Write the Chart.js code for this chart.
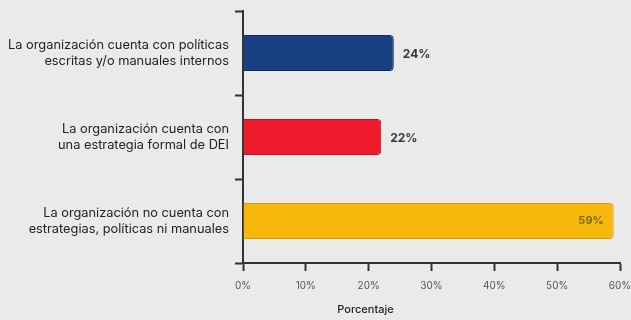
<!DOCTYPE html>
<html>
<head>
<meta charset="utf-8">
<script src="https://cdn.jsdelivr.net/npm/chart.js@4"></script>
<style>
  html, body { margin: 0; padding: 0; background: #eaeaea; }
  #wrap { width: 631px; height: 320px; }
</style>
</head>
<body>
<div id="wrap"><canvas id="chart"></canvas></div>
<script>
// Categories (multi-line labels) and their percentages.
const categories = [
    ["La organización cuenta con políticas", "escritas y/o manuales internos"],
    ["La organización cuenta con", "una estrategia formal de DEI"],
    ["La organización no cuenta con", "estrategias, políticas ni manuales"],
];
const percentages = [24, 22, 59];
const barColors = ["#173f82", "#ee1b2d", "#f6b60a"];
const barBorders = ["#0f2c5e", "#b8121f", "#d69c00"];
const xTicks = [0, 10, 20, 30, 40, 50, 60];

const FONT = "Inter, 'Open Sans', sans-serif";
const AXIS_COLOR = "#333333";

// Draws the value next to each bar; the last one sits inside its bar.
const valueLabels = {
    id: 'valueLabels',
    afterDatasetsDraw(chart) {
        const ctx = chart.ctx;
        const meta = chart.getDatasetMeta(0);
        ctx.save();
        ctx.textBaseline = 'middle';
        meta.data.forEach((bar, i) => {
            const text = `${percentages[i]}%`;
            if (i == meta.data.length - 1) {
                ctx.font = `bold 11px ${FONT}`;
                ctx.fillStyle = "#7b6a14";
                ctx.textAlign = 'right';
                ctx.fillText(text, bar.x - 10, bar.y);
            }
            else {
                ctx.font = `bold 12px ${FONT}`;
                ctx.fillStyle = "#383838";
                ctx.textAlign = 'left';
                ctx.fillText(text, bar.x + 9, bar.y + 1);
            }
        });
        ctx.restore();
    }
};

// Axis title, placed left of the axis middle.
const axisTitle = {
    id: 'axisTitle',
    afterDraw(chart) {
        const ctx = chart.ctx;
        const x = chart.scales.x;
        ctx.save();
        ctx.font = `500 11px ${FONT}`;
        ctx.fillStyle = "#222222";
        ctx.textAlign = 'center';
        ctx.textBaseline = 'middle';
        ctx.fillText("Porcentaje", x.getPixelForValue(19.5), 310);
        ctx.restore();
    }
};

new Chart(document.getElementById("chart"), {
    type: 'bar',
    data: {
        labels: categories,
        datasets: [{
            data: percentages,
            backgroundColor: barColors,
            borderColor: barBorders,
            borderWidth: 1,
            borderRadius: 4,
            borderSkipped: 'start',
            categoryPercentage: 1.0,
            barPercentage: 0.43,
        }]
    },
    options: {
        indexAxis: 'y',
        responsive: true,
        maintainAspectRatio: false,
        animation: false,
        layout: {
            padding: { top: 11, right: 11, left: 0, bottom: 0 },
        },
        plugins: {
            legend: { display: false },
            tooltip: { enabled: false },
        },
        scales: {
            x: {
                min: 0,
                max: 60,
                afterBuildTicks: (scale) => {
                    scale.ticks = xTicks.map(v => ({ value: v }));
                },
                afterFit: (scale) => {
                    scale.height = 57;
                    scale.paddingRight = 0;
                    scale.paddingLeft = 0;
                },
                border: { display: true, color: AXIS_COLOR, width: 2 },
                grid: {
                    drawOnChartArea: false,
                    drawTicks: true,
                    tickLength: 8,
                    tickWidth: 2,
                    tickColor: AXIS_COLOR,
                },
                ticks: {
                    padding: 9,
                    color: "#555555",
                    font: { family: FONT, size: 10 },
                    callback: (v) => `${v}%`,
                },
            },
            y: {
                afterFit: (scale) => {
                    scale.width = 243;
                    scale.paddingTop = 0;
                    scale.paddingBottom = 0;
                },
                border: { display: true, color: AXIS_COLOR, width: 2 },
                grid: {
                    offset: true,
                    drawOnChartArea: false,
                    drawTicks: true,
                    tickLength: 8,
                    tickWidth: 2,
                    tickColor: AXIS_COLOR,
                },
                ticks: {
                    padding: 6,
                    color: "#222222",
                    font: { family: FONT, size: 12.8, lineHeight: 1.22 },
                },
            },
        },
    },
    plugins: [valueLabels, axisTitle],
});
</script>
</body>
</html>
